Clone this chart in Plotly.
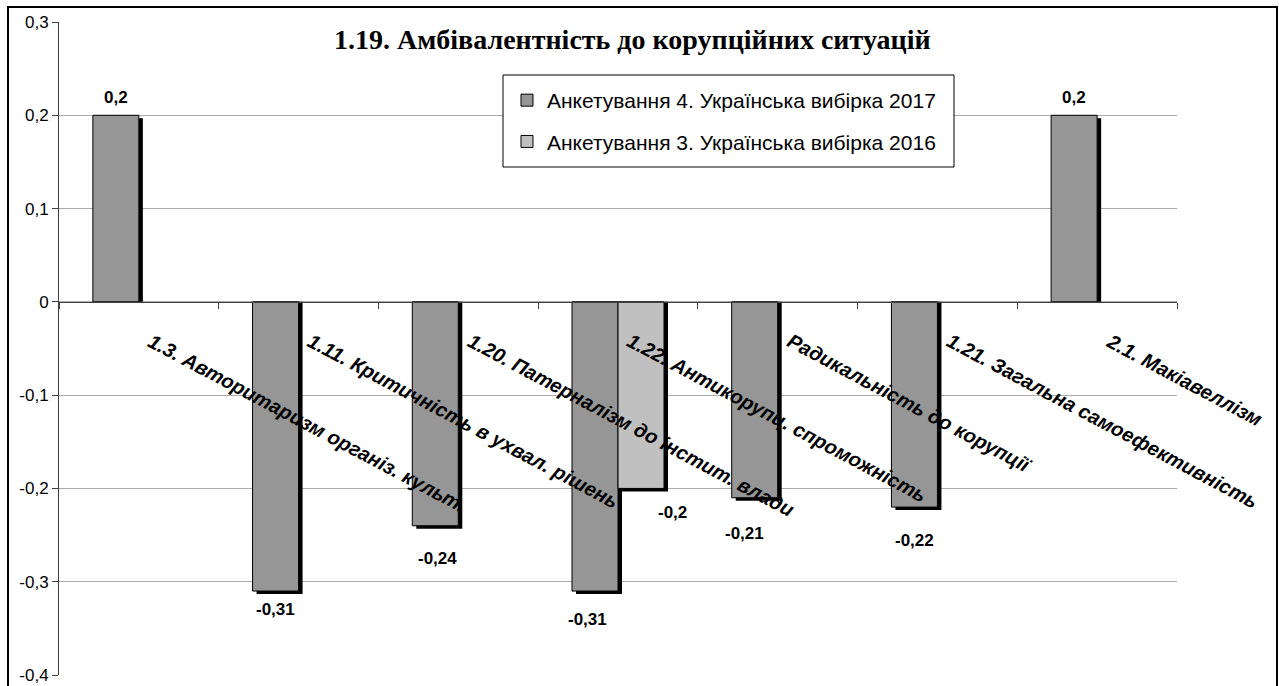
import plotly.graph_objects as go

# --- chart data -------------------------------------------------------------
categories = [
    "1.3. Авторитаризм організ. культ.",
    "1.11. Критичність в ухвал. рішень",
    "1.20. Патерналізм до інстит. влади",
    "1.22. Антикорупц. спроможність",
    "Радикальність до корупції",
    "1.21. Загальна самоефективність",
    "2.1. Макіавеллізм",
]
series_2017 = [0.2, -0.31, -0.24, -0.31, -0.21, -0.22, 0.2]
series_2016 = [None, None, None, -0.2, None, None, None]
name_2017 = "Анкетування 4. Українська вибірка 2017"
name_2016 = "Анкетування 3. Українська вибірка 2016"
title_text = "1.19. Амбівалентність до корупційних ситуацій"
y_ticks = [0.3, 0.2, 0.1, 0, -0.1, -0.2, -0.3, -0.4]
y_tick_text = ["0,3", "0,2", "0,1", "0", "-0,1", "-0,2", "-0,3", "-0,4"]

# --- geometry (pixels) -------------------------------------------------------
W, H = 1279, 686
ML, MR, MT, MB = 59, 102, 22, 11
PW, PH = W - ML - MR, H - MT - MB
Y_MIN, Y_MAX = -0.4, 0.3
n = len(categories)
px_per_x = PW / n
px_per_y = PH / (Y_MAX - Y_MIN)

bar_w = 46 / px_per_x          # bar width in category units
sh_dx = 4 / px_per_x           # drop-shadow offset
sh_dy = 3 / px_per_y

FONT = "Liberation Sans"
C2017, C2016 = "#969696", "#c0c0c0"

xs = list(range(n))


def shadow_vals(vals):
    return [None if v is None else v - sh_dy for v in vals]


fig = go.Figure()

# drop shadows underneath the bars
for vals, off in ((series_2017, -bar_w), (series_2016, 0.0)):
    fig.add_trace(go.Bar(
        x=xs, y=shadow_vals(vals), width=bar_w, offset=off + sh_dx,
        marker=dict(color="#000000", line=dict(width=0)),
        showlegend=False, hoverinfo="skip", legendgroup="s",
    ))

fig.add_trace(go.Bar(
    x=xs, y=series_2017, width=bar_w, offset=-bar_w, name=name_2017,
    marker=dict(color=C2017, line=dict(color="#000000", width=1)),
    legendgroup="a",
))
fig.add_trace(go.Bar(
    x=xs, y=series_2016, width=bar_w, offset=0.0, name=name_2016,
    marker=dict(color=C2016, line=dict(color="#000000", width=1)),
    legendgroup="b",
))

annotations = []

# category labels along the zero line, slanted
for i, cat in enumerate(categories):
    annotations.append(dict(
        x=i, y=0, xref="x", yref="y", text=f"<b><i>{cat}</i></b>",
        textangle=28, xanchor="left", yanchor="top", showarrow=False,
        xshift=3, yshift=-25, font=dict(family=FONT, size=20, color="#000000"),
    ))

# value labels (pixel nudges per label)
lab_dx_2017 = [0, 0, 2, -8, -10, 0, 0]
lab_dy_2017 = [-18, 18, 33, 28, 36, 33, -18]
lab_dx_2016 = [0, 0, 0, 31, 0, 0, 0]
lab_dy_2016 = [0, 0, 0, 24, 0, 0, 0]


def fmt(v):
    return f"{v:g}".replace(".", ",")


for vals, off, ddx, ddy in ((series_2017, -bar_w / 2, lab_dx_2017, lab_dy_2017),
                            (series_2016, bar_w / 2, lab_dx_2016, lab_dy_2016)):
    for i, v in enumerate(vals):
        if v is None:
            continue
        annotations.append(dict(
            x=i + off, y=v, xref="x", yref="y", text=f"<b>{fmt(v)}</b>",
            xanchor="center", yanchor="middle", showarrow=False,
            xshift=ddx[i], yshift=-ddy[i],
            font=dict(family=FONT, size=17, color="#000000"),
        ))

# title
annotations.append(dict(
    x=(632 - ML) / PW, y=(H - MB - 39) / PH, xref="paper", yref="paper",
    text=f"<b>{title_text}</b>", showarrow=False, xanchor="center", yanchor="middle",
    font=dict(family="Liberation Serif", size=28, color="#000000"),
))


def px_x(p):
    return (p - ML) / PW


def px_y(p):
    return (H - MB - p) / PH


shapes = [
    # outer frame
    dict(type="rect", xref="paper", yref="paper",
         x0=px_x(8), x1=px_x(1277), y0=px_y(700), y1=px_y(7),
         line=dict(color="#000000", width=2), fillcolor="rgba(0,0,0,0)", layer="above"),
    # legend box
    dict(type="rect", xref="paper", yref="paper",
         x0=px_x(503), x1=px_x(954), y0=px_y(167), y1=px_y(75),
         line=dict(color="#000000", width=1), fillcolor="#ffffff", layer="above"),
]

fig.update_layout(
    width=W, height=H,
    margin=dict(l=ML, r=MR, t=MT, b=MB, pad=0, autoexpand=False),
    paper_bgcolor="#ffffff", plot_bgcolor="#ffffff",
    barmode="overlay",
    font=dict(family=FONT, size=17, color="#000000"),
    showlegend=True,
    legend=dict(
        x=px_x(507), y=px_y(80), xanchor="left", yanchor="top",
        bgcolor="rgba(0,0,0,0)", borderwidth=0,
        font=dict(family=FONT, size=21, color="#000000"),
        tracegroupgap=11, traceorder="grouped",
    ),
    xaxis=dict(
        range=[-0.5, n - 0.5], anchor="free", automargin=False,
        position=(0 - Y_MIN) / (Y_MAX - Y_MIN),
        showline=True, linecolor="#404040", linewidth=1,
        tickmode="array", tickvals=[i - 0.5 for i in range(n + 1)],
        ticks="outside", ticklen=6, tickcolor="#404040",
        showticklabels=False, showgrid=False, zeroline=False,
    ),
    yaxis=dict(
        range=[Y_MIN, Y_MAX], tickmode="array", tickvals=y_ticks, ticktext=y_tick_text,
        automargin=False,
        showline=True, linecolor="#404040", linewidth=1,
        ticks="outside", ticklen=6, tickcolor="#404040",
        showgrid=True, gridcolor="#ababab", gridwidth=1, zeroline=False,
        tickfont=dict(family=FONT, size=17, color="#000000"),
    ),
    annotations=annotations,
    shapes=shapes,
)

fig.write_html("out.html")
